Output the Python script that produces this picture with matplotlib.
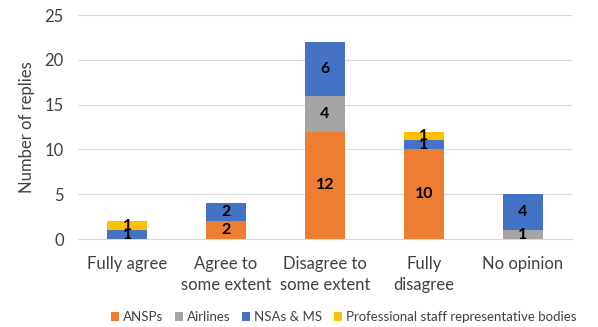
import matplotlib.pyplot as plt
import numpy as np

categories = ["Fully agree", "Agree to\nsome extent", "Disagree to\nsome extent", "Fully\ndisagree", "No opinion"]
series_names = ["ANSPs", "Airlines", "NSAs & MS", "Professional staff representative bodies"]
ansps = [0, 2, 12, 10, 0]
airlines = [0, 0, 4, 0, 1]
nsas_ms = [1, 2, 6, 1, 4]
prof_staff = [1, 0, 0, 1, 0]
colors = ["#ED7D31", "#A5A5A5", "#4472C4", "#FFC000"]

plt.rcParams["font.family"] = ["Lato", "DejaVu Sans"]

fig = plt.figure(figsize=(5.98, 3.27), dpi=100)
ax = fig.add_axes([0.130, 0.269, 0.827, 0.685])

x = np.arange(len(categories))
bottom = np.zeros(len(categories))
for name, vals, col in zip(series_names, [ansps, airlines, nsas_ms, prof_staff], colors):
    vals = np.array(vals, dtype=float)
    ax.bar(x, vals, 0.4, bottom=bottom, color=col, label=name, zorder=2)
    for xi, b, v in zip(x, bottom, vals):
        if v > 0:
            ax.text(xi, b + v / 2, str(int(v)), ha="center", va="center",
                    fontsize=11.5, fontweight="bold", color="black", zorder=3)
    bottom += vals

ax.set_xlim(-0.5, len(categories) - 0.5)
ax.set_ylim(0, 25)
ax.set_yticks(range(0, 26, 5))
ax.set_xticks(x)
ax.set_xticklabels(categories, fontsize=12, color="#404040", linespacing=1.4)
ax.tick_params(axis="y", labelsize=12, labelcolor="#404040", length=0, pad=10)
ax.tick_params(axis="x", length=0, pad=12)
ax.grid(axis="y", color="#D9D9D9", linewidth=0.8, zorder=0)
for side in ["top", "right", "left"]:
    ax.spines[side].set_visible(False)
ax.spines["bottom"].set_color("#D9D9D9")
ax.set_ylabel("Number of replies", fontsize=12, color="#404040", labelpad=7)

fig.legend(loc="lower center", bbox_to_anchor=(0.575, -0.025), ncol=4, frameon=False,
           fontsize=9.5, handlelength=0.6, handleheight=0.6, handletextpad=0.3,
           columnspacing=0.9, labelcolor="#404040")

fig.savefig("out.png", dpi=100)
